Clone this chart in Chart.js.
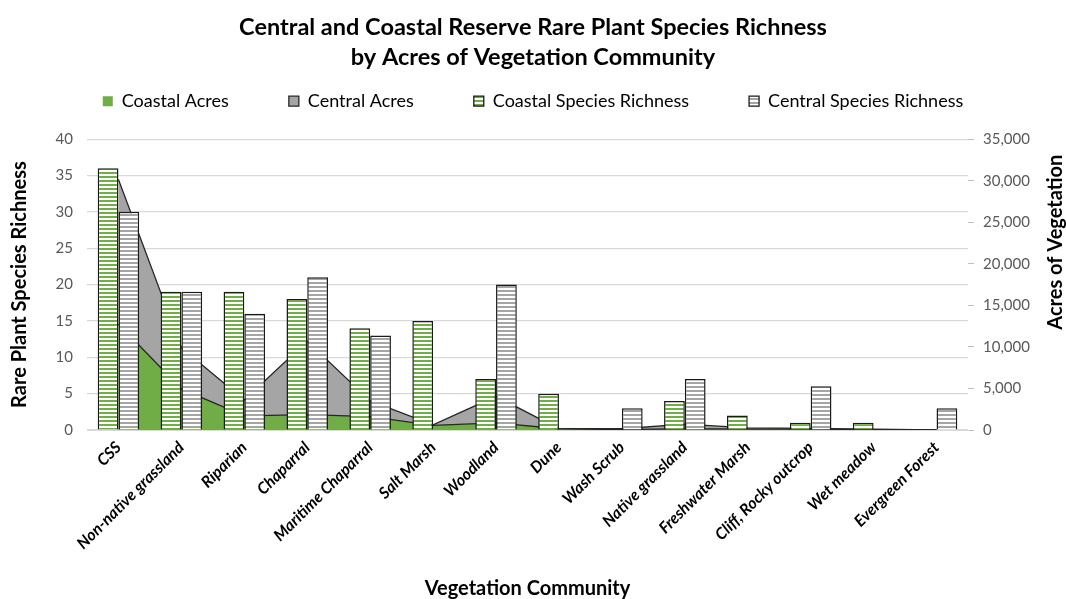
<!DOCTYPE html>
<html>
<head>
<meta charset="utf-8">
<script src="https://cdn.jsdelivr.net/npm/chart.js@4.4.1/dist/chart.umd.min.js"></script>
<style>
  html, body { margin: 0; padding: 0; background: #fff; }
  #wrap { width: 1066px; height: 599px; }
</style>
</head>
<body>
<div id="wrap"><canvas id="chart"></canvas></div>
<script>
const categories = ['CSS', 'Non-native grassland', 'Riparian', 'Chaparral', 'Maritime Chaparral', 'Salt Marsh',
  'Woodland', 'Dune', 'Wash Scrub', 'Native grassland', 'Freshwater Marsh', 'Cliff, Rocky outcrop', 'Wet meadow', 'Evergreen Forest'];
const coastalAcres = [12750, 4950, 1700, 1850, 1600, 550, 850, 150, 50, 150, 100, 100, 50, 0];
const centralAcres = [17400, 4950, 1900, 8850, 1900, 70, 3200, 0, 100, 550, 150, 100, 50, 0];
const coastalRichness = [36, 19, 19, 18, 14, 15, 7, 5, 0, 4, 2, 1, 1, 0];
const centralRichness = [30, 19, 16, 21, 13, 0, 20, 0, 3, 7, 0, 6, 0, 3];

Chart.defaults.font.family = 'Lato, "Open Sans", sans-serif';
Chart.defaults.color = '#000';

const canvas = document.getElementById('chart');

// horizontal stripe fill like the Excel pattern
function stripes(base, line) {
    const c = document.createElement('canvas');
    c.width = 4; c.height = 4;
    const g = c.getContext('2d');
    g.fillStyle = base; g.fillRect(0, 0, 4, 4);
    g.fillStyle = line; g.fillRect(0, 2, 4, 2);
    return canvas.getContext('2d').createPattern(c, 'repeat');
}

const greenStripes = stripes('#70AD47', '#ffffff');
const grayStripes = stripes('#ffffff', '#A5A5A5');

// Chart.js puts right-hand titles top-to-bottom, Excel reads them upward
const rightTitle = {
    id: 'rightTitle',
    afterDraw(chart) {
        const s = chart.scales.y1;
        const ctx = chart.ctx;
        ctx.save();
        ctx.translate(s.right - 10, chart.chartArea.top + 103);
        ctx.rotate(-Math.PI / 2);
        ctx.font = 'bold 20px Lato, "Open Sans", sans-serif';
        ctx.fillStyle = '#000';
        ctx.textAlign = 'center';
        ctx.textBaseline = 'middle';
        ctx.fillText('Acres of Vegetation', 0, 0);
        ctx.restore();
    }
};

new Chart(canvas, {
    type: 'bar',
    data: {
        labels: categories,
        datasets: [
            { type: 'line', label: 'Coastal Acres', data: coastalAcres, yAxisID: 'y1', backgroundColor: '#70AD47',
              borderColor: '#262626', borderWidth: 1.3, fill: 'origin', pointRadius: 0, tension: 0, order: 2 },
            { type: 'line', label: 'Central Acres', data: centralAcres, yAxisID: 'y1', backgroundColor: '#A5A5A5',
              borderColor: '#262626', borderWidth: 1.3, fill: '-1', pointRadius: 0, tension: 0, order: 2 },
            { label: 'Coastal Species Richness', data: coastalRichness, yAxisID: 'y', backgroundColor: greenStripes,
              borderColor: '#1a1a1a', borderWidth: 1.5, categoryPercentage: 0.66, barPercentage: 1, order: 1 },
            { label: 'Central Species Richness', data: centralRichness, yAxisID: 'y', backgroundColor: grayStripes,
              borderColor: '#1a1a1a', borderWidth: 1.5, categoryPercentage: 0.66, barPercentage: 1, order: 1 },
        ]
    },
    options: {
        responsive: true,
        maintainAspectRatio: false,
        animation: false,
        plugins: {
            tooltip: { enabled: false },
            title: {
                display: true,
                text: ['Central and Coastal Reserve Rare Plant Species Richness', 'by Acres of Vegetation Community'],
                font: { size: 23.5, weight: 'bold', lineHeight: 1.28 },
                color: '#000',
                padding: { top: 12, bottom: -40 }
            },
            legend: {
                labels: {
                    boxWidth: 10,
                    boxHeight: 10,
                    padding: 60,
                    font: { size: 18 },
                    color: '#000',
                    sort: (a, b) => a.datasetIndex - b.datasetIndex,
                    generateLabels: chart => {
                        const items = Chart.defaults.plugins.legend.labels.generateLabels(chart);
                        items.forEach(it => {
                            if (it.datasetIndex === 0) it.lineWidth = 0;
                            else it.lineWidth = 1.3;
                        });
                        return items;
                    }
                }
            }
        },
        scales: {
            x: {
                grid: { display: false, drawTicks: false },
                border: { display: true, color: '#D9D9D9' },
                ticks: { color: '#000', font: { size: 16, weight: 'bold', style: 'italic' },
                         minRotation: 45, maxRotation: 45, autoSkip: false, padding: 8 },
                title: { display: true, text: 'Vegetation Community', font: { size: 20, weight: 'bold' },
                         color: '#000', padding: { top: 0, bottom: -2 } },
                afterFit: s => { s.height = 169; }
            },
            // empty top axis, only keeps the gap between legend and plot
            xTop: {
                type: 'category',
                position: 'top',
                grid: { display: false, drawTicks: false },
                border: { display: false },
                ticks: { display: false },
                afterFit: s => { s.height = 19; }
            },
            y: {
                position: 'left',
                min: 0, max: 40,
                ticks: { stepSize: 5, color: '#595959', font: { size: 15 }, padding: 14 },
                grid: { color: '#D9D9D9', lineWidth: 1.2, drawTicks: false },
                border: { display: false },
                title: { display: true, text: 'Rare Plant Species Richness', font: { size: 20, weight: 'bold' },
                         color: '#000', padding: { top: 8, bottom: 0 } },
                afterFit: s => { s.width = 87; }
            },
            y1: {
                position: 'right',
                min: 0, max: 35000,
                stacked: true,
                ticks: { stepSize: 5000, color: '#595959', font: { size: 15 }, padding: 9,
                         callback: v => v.toLocaleString('en-US') },
                grid: { drawOnChartArea: false, color: '#BFBFBF', tickLength: 6 },
                border: { display: false },
                afterFit: s => { s.width = 98; }
            }
        }
    },
    plugins: [rightTitle]
});
</script>
</body>
</html>
